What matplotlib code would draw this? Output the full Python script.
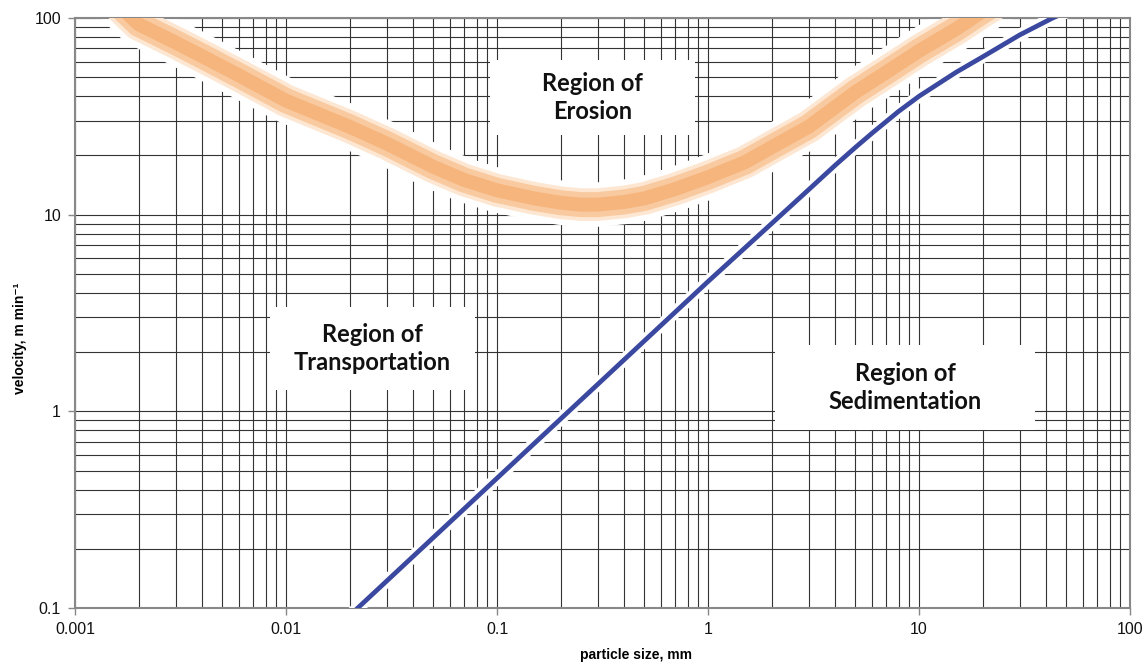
import matplotlib
matplotlib.use("Agg")
import matplotlib.pyplot as plt
from matplotlib.patches import Rectangle
from matplotlib.ticker import FixedLocator, FixedFormatter, LogLocator, NullFormatter

# ---- data ----
erosion_size = [0.0015, 0.002, 0.003, 0.004, 0.006, 0.01, 0.02, 0.03, 0.05, 0.07, 0.1, 0.15,
                0.2, 0.25, 0.3, 0.4, 0.5, 0.7, 1, 1.5, 2, 3, 5, 7, 10, 15, 20, 25]
erosion_vel = [125, 93, 75, 64, 51, 38, 28, 23, 17.5, 15, 13.3, 12.1,
               11.5, 11.25, 11.25, 11.6, 12.1, 13.5, 15.5, 18.5, 22, 28, 42, 53, 68, 88, 108, 125]

sediment_size = [0.02, 0.1, 1, 2, 3, 4, 5, 6, 8, 10, 15, 20, 30, 43, 55]
sediment_vel = [0.0914, 0.457, 4.57, 9.0, 13.4, 17.8, 22, 26, 33.5, 40, 53, 63.4, 82, 100, 112]

x_ticks = [0.001, 0.01, 0.1, 1, 10, 100]
x_ticklabels = ["0.001", "0.01", "0.1", "1", "10", "100"]
y_ticks = [0.1, 1, 10, 100]
y_ticklabels = ["0.1", "1", "10", "100"]

region_labels = ["Region of\nErosion", "Region of\nTransportation", "Region of\nSedimentation"]

# ---- figure ----
W, H = 1148, 666
fig = plt.figure(figsize=(W / 100, H / 100), dpi=100)
L, R, T, B = 75, 1130, 18, 608
ax = fig.add_axes([L / W, 1 - B / H, (R - L) / W, (B - T) / H])
ax.set_xscale("log")
ax.set_yscale("log")
ax.set_xlim(0.001, 100)
ax.set_ylim(0.1, 100)

ax.xaxis.set_major_locator(FixedLocator(x_ticks))
ax.xaxis.set_major_formatter(FixedFormatter(x_ticklabels))
ax.yaxis.set_major_locator(FixedLocator(y_ticks))
ax.yaxis.set_major_formatter(FixedFormatter(y_ticklabels))
ax.xaxis.set_minor_locator(LogLocator(base=10, subs=range(2, 10)))
ax.yaxis.set_minor_locator(LogLocator(base=10, subs=range(2, 10)))
ax.xaxis.set_minor_formatter(NullFormatter())
ax.yaxis.set_minor_formatter(NullFormatter())
ax.tick_params(which="minor", length=0)
ax.tick_params(which="major", length=5, width=1, color="#888888", labelsize=11.5,
               labelcolor="#111111", pad=5)
for lab in ax.get_xticklabels() + ax.get_yticklabels():
    lab.set_fontfamily("Liberation Sans")

ax.set_axisbelow(True)
ax.grid(True, which="both", color="#333333", linewidth=0.8, zorder=0)
for s in ax.spines.values():
    s.set_color("#888888")
    s.set_linewidth(1.5)

# erosion band with white halo
kw = dict(solid_capstyle="butt", solid_joinstyle="round")
ax.plot(erosion_size, erosion_vel, color="white", linewidth=32, zorder=2, **kw)
ax.plot(erosion_size, erosion_vel, color="#fde7d2", linewidth=23.5, zorder=3, **kw)
ax.plot(erosion_size, erosion_vel, color="#f9caa0", linewidth=18, zorder=3, **kw)
ax.plot(erosion_size, erosion_vel, color="#f6b57c", linewidth=10, zorder=3, **kw)

# sedimentation line with white halo
ax.plot(sediment_size, sediment_vel, color="white", linewidth=9, zorder=4, solid_joinstyle="round")
ax.plot(sediment_size, sediment_vel, color="#3a489f", linewidth=3.4, zorder=5, solid_joinstyle="round")

# white label boxes (pixel rectangles converted to axes fractions)
def px_box(x0, y0, x1, y1):
    return ((x0 - L) / (R - L), (B - y1) / (B - T), (x1 - x0) / (R - L), (y1 - y0) / (B - T))

boxes = [(490, 60, 695, 135), (270, 307, 475, 390), (775, 345, 1035, 430)]
for (x0, y0, x1, y1), text in zip(boxes, region_labels):
    bx, by, bw, bh = px_box(x0, y0, x1, y1)
    ax.add_patch(Rectangle((bx, by), bw, bh, transform=ax.transAxes,
                           facecolor="white", edgecolor="none", zorder=6))
    ax.text(bx + bw / 2, by + bh / 2, text, transform=ax.transAxes, ha="center", va="center",
            fontsize=17, fontweight="bold", family="Lato", linespacing=1.3,
            color="#111111", zorder=7)

fig.text(636 / W, 1 - 655 / H, "particle size, mm", ha="center", va="center",
         fontsize=10, fontweight="bold", family="Liberation Sans")
fig.text(20 / W, 1 - 338 / H, "velocity, m min\u207b\u00b9", ha="center", va="center",
         rotation=90, fontsize=10, fontweight="bold", family=["Liberation Sans", "DejaVu Sans"])

fig.savefig("out.png", dpi=100, facecolor="white")
